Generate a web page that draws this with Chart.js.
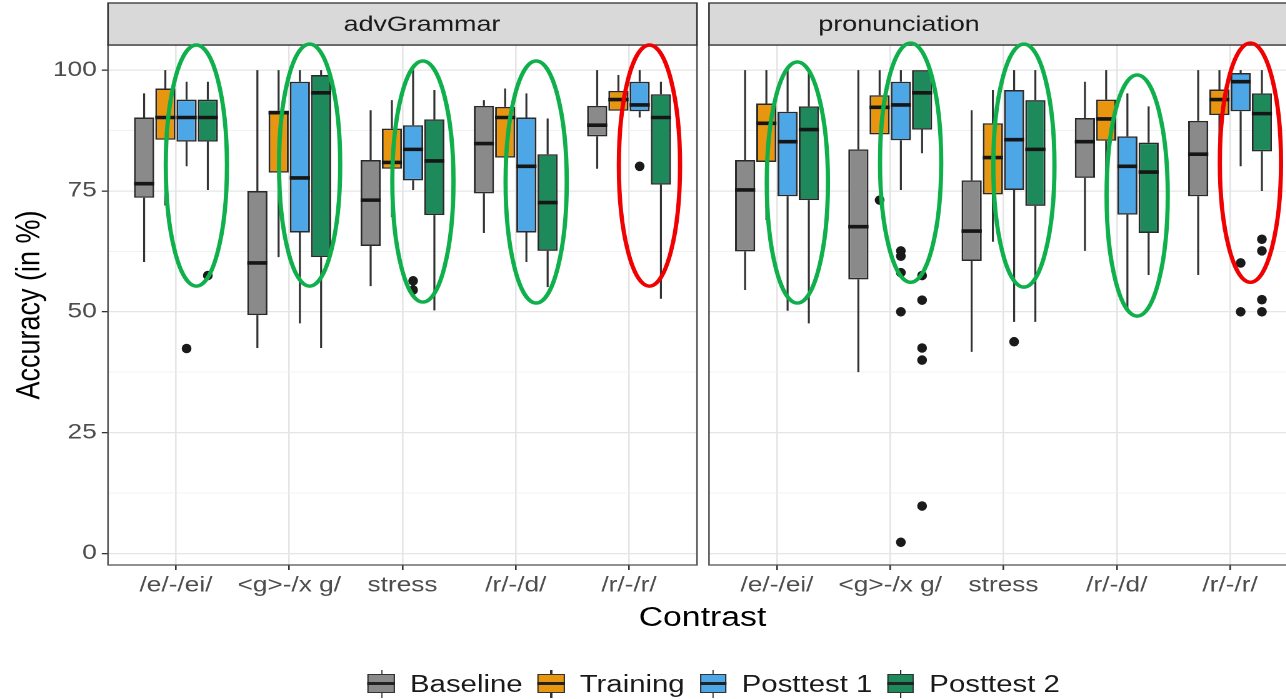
<!DOCTYPE html>
<html lang="en">
<head>
<meta charset="UTF-8" />
<title>Accuracy by contrast</title>
<script src="https://cdn.jsdelivr.net/npm/chart.js"></script>
<style>
  body { margin: 0; background: #fff; font-family: "Liberation Sans", Arial, sans-serif; }
  #wrap { position: relative; width: 1286px; height: 699px; overflow: hidden; background: #fff; }
  /* the reference is stretched sideways, so draw narrow and widen */
  #stage { position: absolute; left: 0; top: 0; width: 1029px; height: 699px; transform: scaleX(1.25); transform-origin: 0 0; }
  .panel { position: absolute; top: 0; }
  #xtitle { position: absolute; left: 562px; top: 602px; transform: translateX(-50%); font-size: 27px; line-height: 30px; color: #000; }
  #legend { position: absolute; left: 294.4px; top: 669px; display: flex; align-items: center; font-size: 23.5px; line-height: 30px; color: #1a1a1a; white-space: nowrap; }
  .item { display: flex; align-items: center; margin-right: 12px; }
  .key { position: relative; width: 21.6px; height: 30px; margin-right: 12px; }
  .key .wh { position: absolute; left: 50%; top: 1px; bottom: 1px; width: 1.4px; margin-left: -0.7px; background: #333; }
  .key .bx { position: absolute; left: 0; right: 0; top: 5px; height: 19px; box-sizing: border-box; border: 1.5px solid #333; }
  .key .md { position: absolute; left: 0; right: 0; top: 13.3px; height: 2.6px; background: #222; }
</style>
</head>
<body>
<div id="wrap">
  <div id="stage">
    <div class="panel" style="left:0"><canvas id="cAdv" width="562" height="600"></canvas></div>
    <div class="panel" style="left:562px"><canvas id="cPro" width="481" height="600"></canvas></div>
    <div id="xtitle">Contrast</div>
    <div id="legend"></div>
  </div>
</div>

<script>
  const contrasts = ['/e/-/ei/', '<g>-/x g/', 'stress', '/r/-/d/', '/r/-/r/'];
  const sessions = ['Baseline', 'Training', 'Posttest 1', 'Posttest 2'];
  const fills = ['#8a8a8a', '#e8960f', '#4da6e6', '#1e8a5c'];
  const yMajor = [0, 25, 50, 75, 100];
  const yMinor = [12.5, 37.5, 62.5, 87.5];

  // [lower whisker, Q1, median, Q3, upper whisker], one row per contrast
  const advBaseline = [[60.3, 73.6, 76.5, 90.2, 95.2], [42.5, 49.3, 60.1, 75.0, 100], [55.3, 63.6, 73.1, 81.4, 91.7], [66.3, 74.5, 84.8, 92.6, 93.8], [79.6, 86.3, 88.6, 92.6, 100]];
  const advTraining = [[72.0, 85.6, 90.2, 96.2, 100], [61.3, 78.8, 91.2, 91.6, 100], [69.6, 79.6, 80.9, 87.9, 93.8], [74.5, 81.9, 90.2, 92.4, 96.2], [91.6, 91.6, 93.9, 95.7, 99.0]];
  const advPost1 = [[80.1, 85.2, 90.2, 93.9, 97.6], [47.6, 66.4, 77.7, 97.6, 100], [75.2, 77.2, 83.6, 88.6, 100], [60.3, 66.4, 80.1, 90.2, 95.2], [90.2, 91.5, 92.8, 97.6, 100]];
  const advPost2 = [[75.2, 85.2, 90.2, 93.9, 97.6], [42.5, 61.3, 95.3, 99.0, 100], [50.3, 70.0, 81.2, 89.8, 95.9], [55.1, 62.6, 72.6, 82.6, 90.0], [52.7, 76.3, 90.2, 95.0, 97.6]];

  const proBaseline = [[54.5, 62.5, 75.2, 81.4, 100], [37.5, 56.7, 67.6, 83.6, 100], [41.7, 60.5, 66.7, 77.2, 91.7], [62.6, 77.7, 85.2, 90.1, 97.6], [57.6, 73.9, 82.6, 89.5, 100]];
  const proTraining = [[69.0, 81.0, 89.0, 93.1, 100], [80.0, 86.7, 92.3, 94.8, 100], [64.5, 74.3, 81.9, 89.0, 95.9], [76.2, 85.4, 89.9, 93.9, 100], [85.5, 90.7, 93.9, 96.0, 100]];
  const proPost1 = [[50.2, 73.9, 85.2, 91.4, 100], [75.2, 85.5, 92.8, 97.6, 100], [47.9, 75.2, 85.6, 95.9, 100], [50.2, 70.1, 80.1, 86.3, 95.2], [80.1, 91.5, 97.6, 99.4, 100]];
  const proPost2 = [[47.6, 73.1, 87.7, 92.5, 100], [82.8, 87.7, 95.3, 100, 100], [47.9, 71.9, 83.6, 93.8, 100], [57.6, 66.3, 78.9, 85.0, 92.5], [75.0, 83.2, 91.0, 95.2, 100]];

  // outliers: [session index, contrast index, value]
  const advOutliers = [[2, 0, 42.4], [3, 0, 57.5], [2, 2, 56.4], [2, 2, 54.5], [2, 4, 80.1]];
  const proOutliers = [[1, 1, 73.1], [2, 1, 62.6], [2, 1, 61.5], [2, 1, 58.1], [2, 1, 50.0], [2, 1, 2.3],
                       [3, 1, 57.5], [3, 1, 52.4], [3, 1, 42.5], [3, 1, 40.0], [3, 1, 9.8], [2, 2, 43.8],
                       [2, 4, 60.1], [2, 4, 50.0], [3, 4, 65.0], [3, 4, 62.6], [3, 4, 52.5], [3, 4, 50.0]];

  // hand-drawn highlight rings: [contrast index, top value, bottom value, colour]
  const advRings = [[0, 105.2, 55.3, '#0fb04b'], [1, 105.4, 55.3, '#0fb04b'], [2, 101.9, 52.0, '#0fb04b'], [3, 101.9, 51.8, '#0fb04b'], [4, 105.2, 55.3, '#f00000']];
  const proRings = [[0, 101.7, 51.8, '#0fb04b'], [1, 105.6, 56.1, '#0fb04b'], [2, 105.4, 55.1, '#0fb04b'], [3, 99.0, 49.1, '#0fb04b'], [4, 105.6, 56.1, '#f00000']];

  function makePanel(id, strip, stripX, stats, outliers, rings, first) {
    const boxes = {
      id: 'boxes',
      beforeDatasetsDraw(chart) {
        const { ctx, scales: { y } } = chart;
        ctx.save();
        ctx.strokeStyle = '#333';
        ctx.lineWidth = 1.6;
        stats.forEach((rows, k) => {
          chart.getDatasetMeta(k).data.forEach((bar, i) => {
            const [lo, q1, , q3, hi] = rows[i];
            ctx.beginPath();
            ctx.moveTo(bar.x, y.getPixelForValue(hi));
            ctx.lineTo(bar.x, y.getPixelForValue(q3));
            ctx.moveTo(bar.x, y.getPixelForValue(q1));
            ctx.lineTo(bar.x, y.getPixelForValue(lo));
            ctx.stroke();
          });
        });
        ctx.restore();
      },
      afterDatasetsDraw(chart) {
        const { ctx, scales: { y } } = chart;
        ctx.save();
        ctx.strokeStyle = '#161616';
        ctx.lineWidth = 3.6;
        stats.forEach((rows, k) => {
          chart.getDatasetMeta(k).data.forEach((bar, i) => {
            const py = y.getPixelForValue(rows[i][2]);
            ctx.beginPath();
            ctx.moveTo(bar.x - bar.width / 2, py);
            ctx.lineTo(bar.x + bar.width / 2, py);
            ctx.stroke();
          });
        });
        ctx.fillStyle = '#1a1a1a';
        outliers.forEach(([k, i, v]) => {
          const bar = chart.getDatasetMeta(k).data[i];
          ctx.beginPath();
          ctx.ellipse(bar.x, y.getPixelForValue(v), 3.9, 4.8, 0, 0, Math.PI * 2);
          ctx.fill();
        });
        ctx.restore();
      },
      afterDraw(chart) {
        const { ctx, chartArea: a, scales: { x, y } } = chart;
        ctx.save();
        ctx.strokeStyle = '#555';
        ctx.lineWidth = 1.3;
        ctx.strokeRect(a.left, a.top, a.right - a.left, a.bottom - a.top);
        // facet strip
        ctx.fillStyle = '#d9d9d9';
        ctx.fillRect(a.left, 3, a.right - a.left, a.top - 3);
        ctx.strokeStyle = '#333';
        ctx.strokeRect(a.left, 3, a.right - a.left, a.top - 3);
        ctx.fillStyle = '#1a1a1a';
        ctx.font = '21.5px "Liberation Sans", Arial, sans-serif';
        ctx.textAlign = 'center';
        ctx.textBaseline = 'middle';
        ctx.fillText(strip, stripX, 25);
        // highlight rings
        ctx.lineWidth = 3.4;
        rings.forEach(([c, top, bottom, col]) => {
          const cx = x.getPixelForValue(c + 0.18);
          const rx = x.getPixelForValue(0.27) - x.getPixelForValue(0);
          const y0 = y.getPixelForValue(top), y1 = y.getPixelForValue(bottom);
          ctx.strokeStyle = col;
          ctx.beginPath();
          ctx.ellipse(cx, (y0 + y1) / 2, rx, (y1 - y0) / 2, 0, 0, Math.PI * 2);
          ctx.stroke();
        });
        ctx.restore();
      }
    };

    return new Chart(document.getElementById(id), {
      type: 'bar',
      data: {
        datasets: sessions.map((s, k) => ({
          label: s,
          data: stats[k].map((b, i) => ({ x: i, y: [b[1], b[3]] })),
          backgroundColor: fills[k],
          borderColor: '#2a2a2a',
          borderWidth: 1.5,
          borderSkipped: false,
          categoryPercentage: 0.75,
          barPercentage: 0.95
        }))
      },
      options: {
        responsive: false,
        animation: false,
        devicePixelRatio: 2,
        layout: { padding: { top: 45, left: first ? 0 : 5.2, right: first ? 4.4 : 4.6, bottom: 0 } },
        plugins: { legend: { display: false }, tooltip: { enabled: false } },
        scales: {
          x: {
            type: 'linear',
            min: -0.6,
            max: 4.6,
            offset: false,
            afterBuildTicks: s => { s.ticks = contrasts.map((c, i) => ({ value: i })); },
            afterFit: s => { s.height = 35; },
            ticks: {
              callback: v => contrasts[v],
              autoSkip: false,
              maxRotation: 0,
              padding: 3,
              color: '#4d4d4d',
              font: { family: '"Liberation Sans", Arial, sans-serif', size: 21 }
            },
            grid: { offset: false, color: '#e5e5e5', lineWidth: 1.3, tickLength: 5, tickColor: '#333' },
            border: { display: false }
          },
          y: {
            min: -2.4,
            max: 105.2,
            bounds: 'data',
            afterBuildTicks: s => { s.ticks = [...yMinor, ...yMajor].sort((a, b) => a - b).map(v => ({ value: v })); },
            afterFit: s => { s.width = first ? 86.4 : 0; },
            ticks: {
              display: first,
              autoSkip: false,
              padding: 4,
              callback: v => yMajor.includes(v) ? v : '',
              color: '#4d4d4d',
              font: { family: '"Liberation Sans", Arial, sans-serif', size: 21 }
            },
            grid: {
              color: c => yMajor.includes(c.tick.value) ? '#e5e5e5' : '#eeeeee',
              lineWidth: c => yMajor.includes(c.tick.value) ? 1.3 : 0.8,
              drawTicks: first,
              tickLength: 5,
              tickColor: c => yMajor.includes(c.tick.value) ? '#333' : 'rgba(0,0,0,0)'
            },
            border: { display: false },
            title: {
              display: first,
              text: 'Accuracy (in %)',
              color: '#000',
              padding: { top: 7.8, bottom: 0 },
              font: { family: '"Liberation Sans", Arial, sans-serif', size: 27 }
            }
          }
        }
      },
      plugins: [boxes]
    });
  }

  makePanel('cAdv', 'advGrammar', 337.6, [advBaseline, advTraining, advPost1, advPost2], advOutliers, advRings, true);
  makePanel('cPro', 'pronunciation', 157.2, [proBaseline, proTraining, proPost1, proPost2], proOutliers, proRings, false);

  // legend with boxplot keys
  const legend = document.getElementById('legend');
  sessions.forEach((s, k) => {
    const item = document.createElement('div');
    item.className = 'item';
    item.innerHTML = '<div class="key"><div class="wh"></div><div class="bx" style="background:' + fills[k] +
      '"></div><div class="md"></div></div><span>' + s + '</span>';
    legend.appendChild(item);
  });
</script>
</body>
</html>
